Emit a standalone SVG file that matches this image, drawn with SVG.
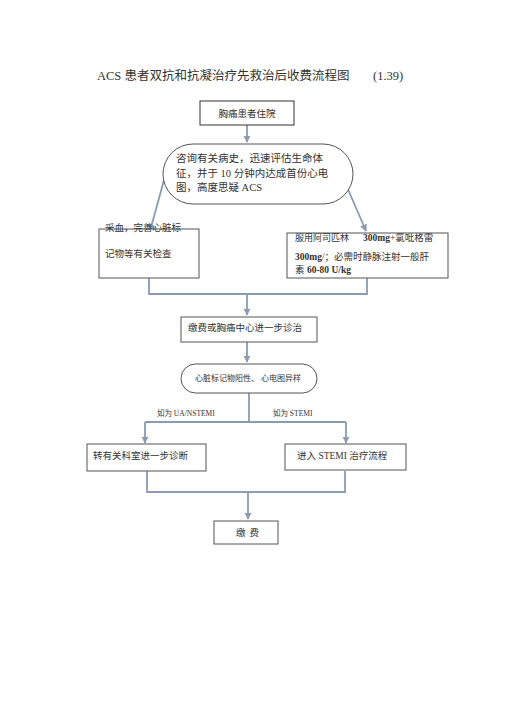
<svg xmlns="http://www.w3.org/2000/svg" width="505" height="714" viewBox="0 0 505 714">
<style>
text{font-family:"Liberation Serif","Noto Sans CJK SC",serif;fill:#333}
.box{fill:#fff;stroke:#555;stroke-width:1}
.c{fill:none;stroke:#8a9bb3;stroke-width:1.8}
.t{font-size:9.5px}
.b{font-weight:bold}
</style>
<defs>
<marker id="ah" viewBox="0 0 10 10" refX="9" refY="5" markerWidth="4" markerHeight="4" orient="auto">
<path d="M0,0 L10,5 L0,10 z" fill="#8a9bb3"/>
</marker>
</defs>
<rect width="505" height="714" fill="#fff"/>
<g id="title">
<text x="97" y="80" font-size="12.5">ACS 患者双抗和抗凝治疗先救治后收费流程图</text>
<text x="373" y="80" font-size="12.5">(1.39)</text>
</g>
<g id="connectors">
<path class="c" d="M247,125 V142" marker-end="url(#ah)"/>
<path class="c" d="M164,180 L150,231" marker-end="url(#ah)"/>
<path class="c" d="M344,180 L366,231" marker-end="url(#ah)"/>
<path class="c" d="M149,278 V294 H367 V278"/>
<path class="c" d="M247,294 V315" marker-end="url(#ah)"/>
<path class="c" d="M247,342 V362" marker-end="url(#ah)"/>
<path class="c" d="M249,393 V422"/>
<path class="c" d="M145,422 H346"/>
<path class="c" d="M145,422 V443" marker-end="url(#ah)"/>
<path class="c" d="M346,422 V443" marker-end="url(#ah)"/>
<path class="c" d="M147,471 V492 H345 V471"/>
<path class="c" d="M248,492 V519" marker-end="url(#ah)"/>
</g>
<g id="n1">
<rect class="box" x="200" y="101" width="94" height="24" stroke-width="1.3" style="stroke:#333"/>
<text class="t" x="247" y="117" text-anchor="middle">胸痛患者住院</text>
</g>
<g id="n2">
<rect class="box" x="163" y="144" width="190" height="60" rx="30" ry="30"/>
<text x="176" y="162" font-size="10.5">咨询有关病史，迅速评估生命体</text>
<text x="176" y="177" font-size="10.5">征，并于 10 分钟内达成首份心电</text>
<text x="176" y="191" font-size="10.5">图，高度思疑  ACS</text>
</g>
<g id="n3">
<rect class="box" x="99" y="229" width="100" height="49"/>
<text class="t" x="105" y="231">采血，完善心脏标</text>
<text class="t" x="105" y="257">记物等有关检查</text>
</g>
<g id="n4">
<rect class="box" x="287" y="233" width="161" height="45"/>
<text x="295" y="241" font-size="9">服用阿司匹林</text>
<text class="t" x="363" y="241"><tspan class="b">300mg</tspan>+氯吡格雷</text>
<text class="t" x="295" y="260"><tspan class="b">300mg</tspan>/；必需时静脉注射一般肝</text>
<text class="t" x="295" y="273">素 <tspan class="b">60-80 U/kg</tspan></text>
</g>
<g id="n5">
<rect class="box" x="181" y="317" width="136" height="25"/>
<text class="t" x="188" y="331">缴费或胸痛中心进一步诊治</text>
</g>
<g id="n6">
<rect class="box" x="181" y="364" width="136" height="29" rx="14.5" ry="14.5"/>
<text x="195" y="381" font-size="8">心脏标记物阳性、  心电图异样</text>
</g>
<g id="labels">
<text x="157" y="416" font-size="7.5">如为 UA/NSTEMI</text>
<text x="273" y="416" font-size="7.5">如为  STEMI</text>
</g>
<g id="n7">
<rect class="box" x="87" y="444" width="119" height="27"/>
<text class="t" x="93" y="459">转有关科室进一步诊断</text>
</g>
<g id="n8">
<rect class="box" x="285" y="444" width="121" height="26"/>
<text class="t" x="297" y="459">进入 STEMI 治疗流程</text>
</g>
<g id="n9">
<rect class="box" x="214" y="521" width="64" height="23"/>
<text class="t" x="236" y="536" letter-spacing="4">缴费</text>
</g>
</svg>
